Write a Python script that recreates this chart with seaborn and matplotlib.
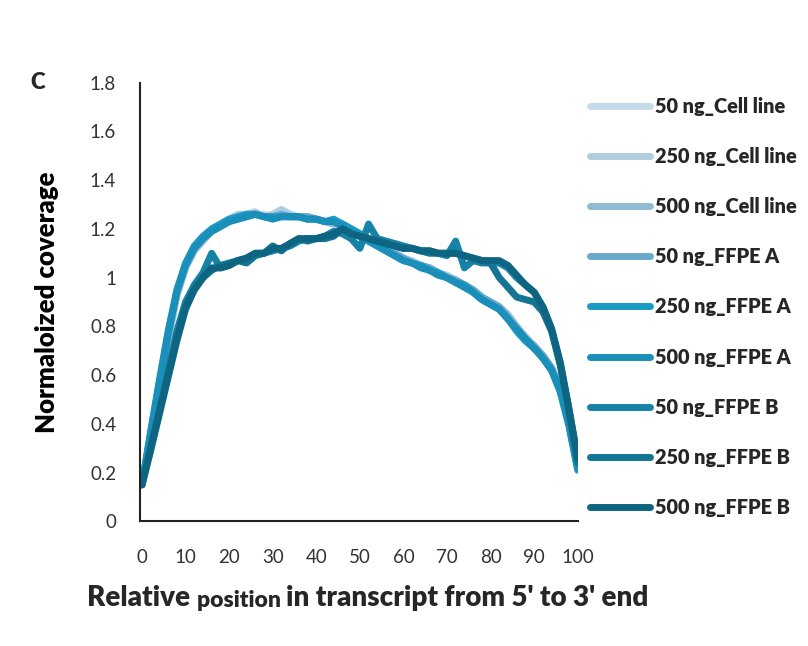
import pandas as pd
import matplotlib.pyplot as plt
import seaborn as sns

positions = list(range(0, 101, 2))

labels = ['50 ng_Cell line', '250 ng_Cell line', '500 ng_Cell line',
          '50 ng_FFPE A', '250 ng_FFPE A', '500 ng_FFPE A',
          '50 ng_FFPE B', '250 ng_FFPE B', '500 ng_FFPE B']

colors = ['#c5dbe9', '#adcde0', '#91bbd5', '#6aa8cc', '#1a9ac7',
          '#198fb9', '#1682a8', '#137592', '#0e6582']

cell_50 = [0.15, 0.34, 0.54, 0.74, 0.92, 1.04, 1.11, 1.16, 1.19, 1.22,
           1.24, 1.25, 1.26, 1.26, 1.26, 1.25, 1.27, 1.25, 1.25, 1.24,
           1.24, 1.23, 1.22, 1.21, 1.20, 1.17, 1.15, 1.13, 1.11, 1.09,
           1.07, 1.06, 1.05, 1.03, 1.01, 1.00, 0.98, 0.96, 0.94, 0.92,
           0.89, 0.87, 0.83, 0.79, 0.75, 0.71, 0.67, 0.62, 0.53, 0.39,
           0.21]
cell_250 = [0.16, 0.35, 0.55, 0.75, 0.93, 1.05, 1.12, 1.16, 1.20, 1.22,
            1.24, 1.26, 1.26, 1.27, 1.25, 1.26, 1.28, 1.26, 1.25, 1.25,
            1.24, 1.23, 1.23, 1.22, 1.20, 1.18, 1.16, 1.14, 1.12, 1.10,
            1.08, 1.07, 1.05, 1.04, 1.02, 1.01, 0.99, 0.97, 0.95, 0.92,
            0.90, 0.88, 0.85, 0.80, 0.76, 0.72, 0.68, 0.63, 0.55, 0.41,
            0.23]
cell_500 = [0.15, 0.35, 0.55, 0.75, 0.93, 1.04, 1.11, 1.15, 1.19, 1.21,
            1.23, 1.25, 1.26, 1.26, 1.25, 1.25, 1.26, 1.25, 1.25, 1.25,
            1.24, 1.23, 1.22, 1.22, 1.20, 1.18, 1.16, 1.14, 1.12, 1.10,
            1.08, 1.06, 1.05, 1.04, 1.02, 1.00, 0.99, 0.97, 0.95, 0.92,
            0.90, 0.88, 0.84, 0.80, 0.75, 0.72, 0.68, 0.63, 0.54, 0.40,
            0.22]
ffpe_a_50 = [0.15, 0.36, 0.56, 0.76, 0.94, 1.05, 1.12, 1.16, 1.19, 1.21,
             1.23, 1.24, 1.25, 1.26, 1.25, 1.25, 1.26, 1.25, 1.25, 1.25,
             1.24, 1.23, 1.23, 1.22, 1.20, 1.18, 1.16, 1.14, 1.12, 1.10,
             1.08, 1.06, 1.05, 1.04, 1.02, 1.00, 0.99, 0.97, 0.95, 0.92,
             0.90, 0.88, 0.84, 0.79, 0.75, 0.72, 0.68, 0.63, 0.54, 0.40,
             0.22]
ffpe_a_250 = [0.15, 0.37, 0.58, 0.78, 0.95, 1.06, 1.13, 1.17, 1.20, 1.22,
              1.24, 1.25, 1.26, 1.26, 1.25, 1.25, 1.25, 1.25, 1.25, 1.24,
              1.24, 1.23, 1.24, 1.22, 1.20, 1.18, 1.15, 1.13, 1.11, 1.09,
              1.07, 1.06, 1.05, 1.03, 1.02, 1.00, 0.98, 0.97, 0.94, 0.91,
              0.89, 0.87, 0.83, 0.78, 0.74, 0.71, 0.67, 0.62, 0.53, 0.39,
              0.21]
ffpe_a_500 = [0.15, 0.36, 0.57, 0.77, 0.94, 1.05, 1.12, 1.16, 1.19, 1.21,
              1.23, 1.24, 1.25, 1.26, 1.25, 1.24, 1.25, 1.25, 1.25, 1.24,
              1.24, 1.23, 1.23, 1.21, 1.19, 1.17, 1.15, 1.13, 1.11, 1.09,
              1.07, 1.06, 1.04, 1.03, 1.01, 1.00, 0.98, 0.96, 0.94, 0.91,
              0.89, 0.87, 0.83, 0.79, 0.75, 0.71, 0.67, 0.62, 0.54, 0.40,
              0.22]
ffpe_b_50 = [0.15, 0.30, 0.46, 0.62, 0.78, 0.90, 0.97, 1.02, 1.10, 1.04,
             1.05, 1.07, 1.08, 1.10, 1.10, 1.11, 1.12, 1.13, 1.15, 1.16,
             1.16, 1.17, 1.19, 1.18, 1.16, 1.12, 1.22, 1.16, 1.15, 1.14,
             1.13, 1.12, 1.11, 1.11, 1.10, 1.09, 1.15, 1.04, 1.07, 1.06,
             1.06, 1.06, 1.04, 1.00, 0.97, 0.94, 0.88, 0.79, 0.65, 0.46,
             0.25]
ffpe_b_250 = [0.15, 0.29, 0.44, 0.59, 0.74, 0.87, 0.95, 1.00, 1.03, 1.05,
              1.06, 1.07, 1.06, 1.09, 1.10, 1.13, 1.11, 1.14, 1.16, 1.15,
              1.16, 1.16, 1.17, 1.20, 1.18, 1.17, 1.16, 1.15, 1.14, 1.13,
              1.12, 1.12, 1.11, 1.10, 1.10, 1.10, 1.10, 1.09, 1.08, 1.07,
              1.06, 1.00, 0.96, 0.92, 0.91, 0.90, 0.86, 0.78, 0.64, 0.45,
              0.24]
ffpe_b_500 = [0.15, 0.30, 0.45, 0.60, 0.75, 0.88, 0.95, 1.00, 1.04, 1.04,
              1.05, 1.07, 1.08, 1.10, 1.10, 1.12, 1.12, 1.14, 1.16, 1.16,
              1.16, 1.17, 1.18, 1.20, 1.18, 1.17, 1.16, 1.15, 1.14, 1.13,
              1.12, 1.12, 1.11, 1.11, 1.10, 1.10, 1.10, 1.09, 1.08, 1.07,
              1.07, 1.07, 1.05, 1.01, 0.97, 0.94, 0.88, 0.79, 0.65, 0.46,
              0.26]

series = [cell_50, cell_250, cell_500, ffpe_a_50, ffpe_a_250, ffpe_a_500,
          ffpe_b_50, ffpe_b_250, ffpe_b_500]

rows = []
for name, vals in zip(labels, series):
    for p, v in zip(positions, vals):
        rows.append({'position': p, 'coverage': v, 'sample': name})
df = pd.DataFrame(rows)

sns.set_style('white')
plt.rcParams['font.family'] = ['Lato', 'DejaVu Sans']

fig = plt.figure(figsize=(8.08, 6.46), dpi=100)
ax = fig.add_axes([0.173, 0.193, 0.542, 0.679])

sns.lineplot(data=df, x='position', y='coverage', hue='sample',
             hue_order=labels, palette=colors, linewidth=5,
             solid_capstyle='round', solid_joinstyle='round', ax=ax, legend=True)

ax.set_xlim(-0.5, 100)
ax.set_ylim(0, 1.8)
ax.set_xticks(range(0, 101, 10))
ax.set_yticks([0, 0.2, 0.4, 0.6, 0.8, 1.0, 1.2, 1.4, 1.6, 1.8])
ax.set_yticklabels(['0', '0.2', '0.4', '0.6', '0.8', '1', '1.2', '1.4', '1.6', '1.8'])
ax.tick_params(axis='y', direction='in', length=6, width=1.2, pad=17,
               labelsize=13.5, colors='#222222', labelcolor='#333333')
ax.tick_params(axis='x', length=0, pad=20, labelsize=13.5, labelcolor='#333333')

for side in ['top', 'right']:
    ax.spines[side].set_visible(False)
for side in ['left', 'bottom']:
    ax.spines[side].set_color('#222222')
    ax.spines[side].set_linewidth(1.5)

ax.set_xlabel('')
ax.set_ylabel('Normaloized coverage', fontsize=18.5, fontweight='heavy',
              labelpad=22, color='black')

# x label with a smaller middle word, as in the original figure
t1 = fig.text(0.108, 0.062, 'Relative ', fontsize=20, fontweight='heavy')
t2 = ax.annotate('position ', xy=(1, 0), xycoords=t1, fontsize=16.5,
                 fontweight='heavy', va='bottom', annotation_clip=False)
t3 = ax.annotate('in transcript from 5\' to 3\' end', xy=(1, 0), xycoords=t2,
                 fontsize=20, fontweight='heavy', va='bottom',
                 annotation_clip=False)

fig.text(0.037, 0.863, 'C', fontsize=16, fontweight='heavy')

leg = ax.legend(loc='upper left', bbox_to_anchor=(0.708, 0.878),
                bbox_transform=fig.transFigure, frameon=False,
                handlelength=3.0, handletextpad=0.28, labelspacing=1.57,
                prop={'weight': 'heavy', 'size': 14.3})
for line in leg.get_lines():
    line.set_linewidth(5)

fig.savefig('out.png', dpi=100)
